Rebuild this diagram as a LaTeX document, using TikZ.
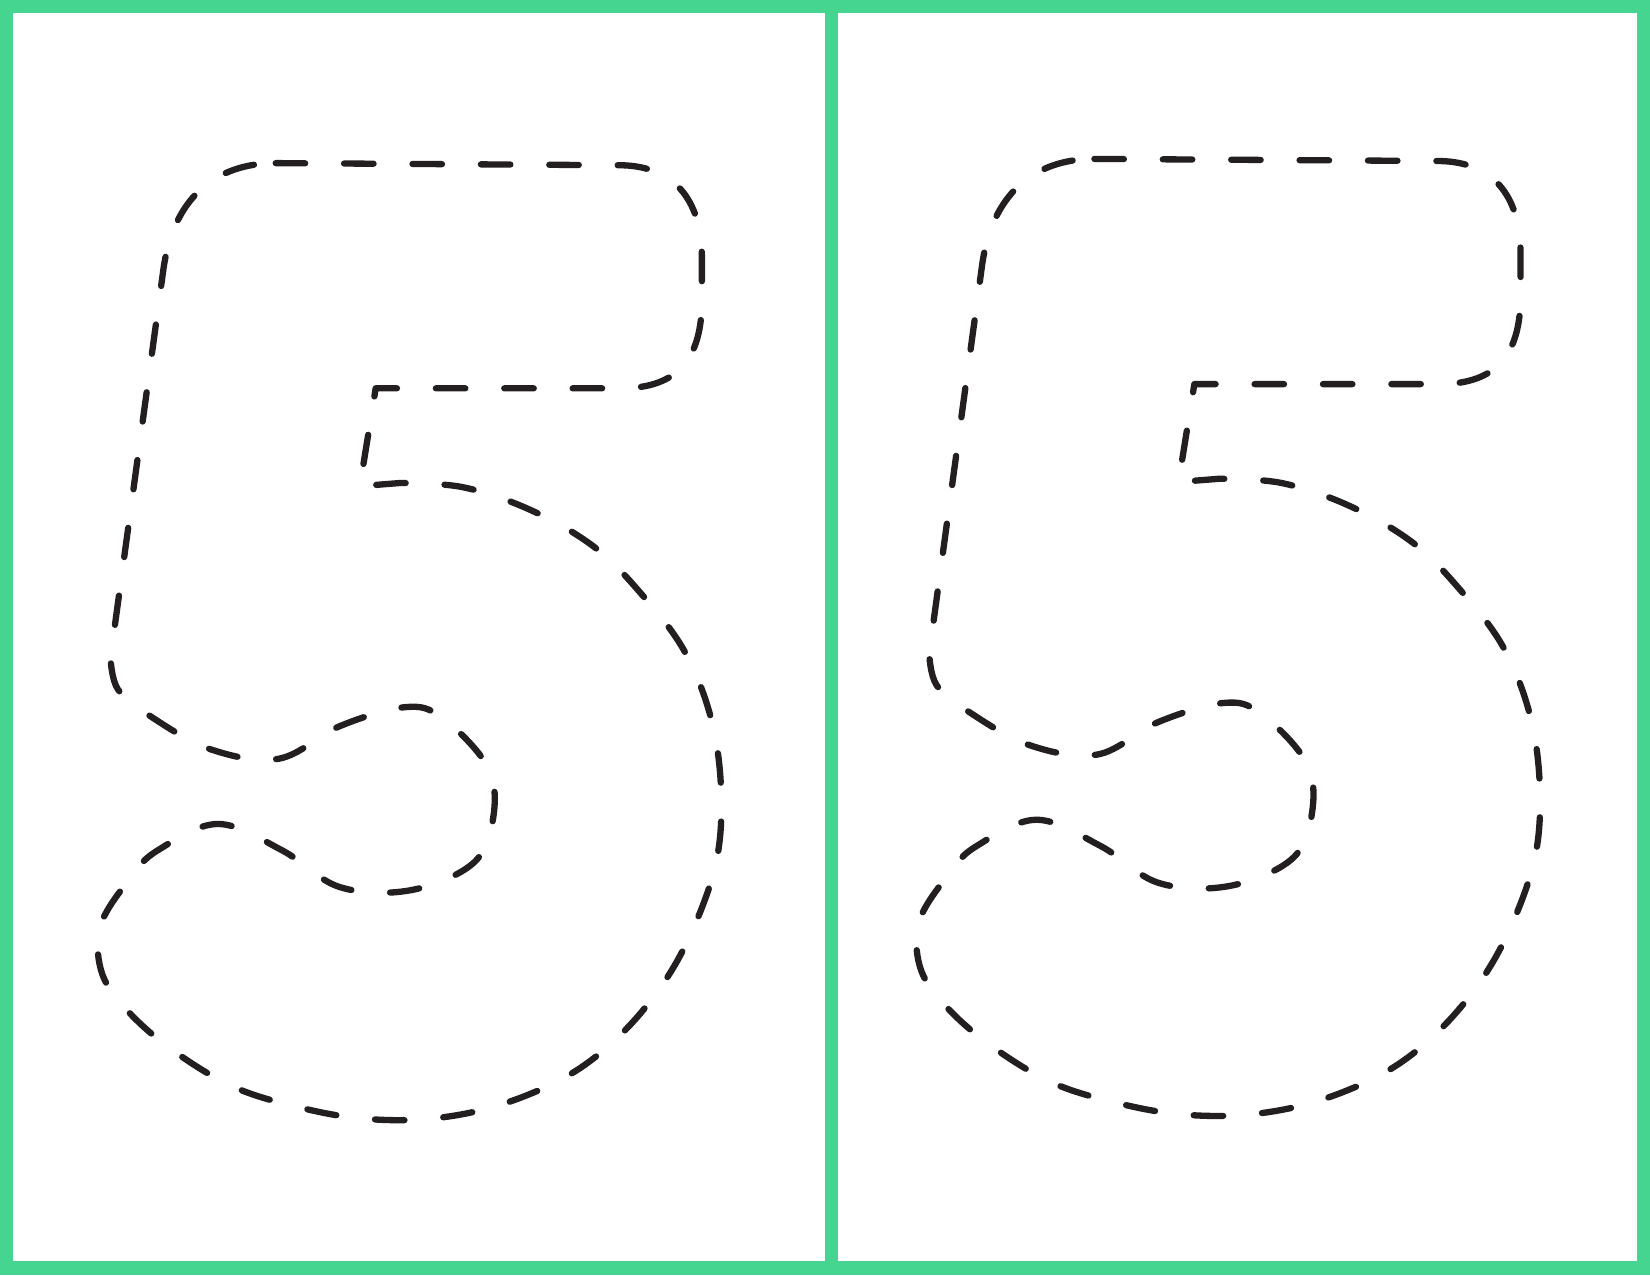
\documentclass[tikz,border=0pt]{standalone}
\usetikzlibrary{positioning}
\definecolor{framegreen}{RGB}{69,213,145}
\definecolor{inkgrey}{RGB}{35,31,32}

\begin{document}
\begin{tikzpicture}[x=0.5pt,y=-0.5pt,
  panel/.style={fill=white},
  tracing/.style={draw=inkgrey,line width=3pt,line cap=round,line join=round,dash pattern=on 14pt off 18.5pt}]
\useasboundingbox (0,0) rectangle (1568,1212);
\fill[framegreen] (0,0) rectangle (1568,1212);
\fill[panel] (12.4,12.4) rectangle (784,1198.5);
\fill[panel] (796.5,12.4) rectangle (1555.6,1198.5);
% the two dashed fives
\foreach \dx/\dy in {0/0,778/-4}{
\begin{scope}[shift={(\dx,\dy)}]
\draw[tracing] (262,155) -- (590,157)
  .. controls (645,158) and (667,195) .. (667,245) -- (667,285)
  .. controls (667,340) and (645,369) .. (590,369) -- (357,369) -- (342,462) -- (380,459)
  -- plot[smooth,tension=0.6] coordinates {(380,459) (440,463) (505,485) (565,520) (610,565)
     (650,618) (675,680) (685,745) (682,812) (662,875) (632,932) (590,983) (540,1022)
     (475,1050) (410,1063) (345,1063) (283,1052) (220,1032) (160,995) (118,957) (96,922)
     (96,878) (125,833) (150,808) (207,783) (268,808) (323,843) (390,846) (450,820)
     (469,775) (463,728) (420,682) (385,672) (323,690) (265,721) (200,712) (142,680)
     (112,655) (105,625)}
  -- (155,258) .. controls (164,188) and (205,155) .. (262,155);
\end{scope}}
\end{tikzpicture}
\end{document}
